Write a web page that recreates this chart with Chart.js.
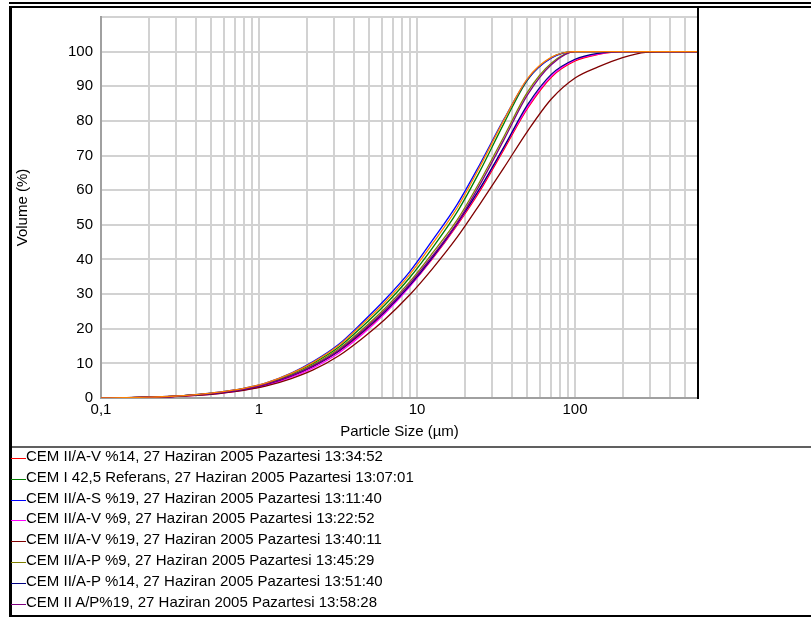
<!DOCTYPE html>
<html>
<head>
<meta charset="utf-8">
<script src="https://cdn.jsdelivr.net/npm/chart.js@4"></script>
<style>
    body { margin: 0; background: #fff; font-family: "Liberation Sans", Arial, sans-serif; }
    #wrap { position: absolute; left: 0; top: 0; width: 811px; height: 447px; }
    .bar { position: absolute; background: #000; }
    #legend { position: absolute; left: 11px; top: 446px; font-size: 15px; line-height: 20.8px; color: #000; white-space: nowrap; }
    #legend .item { position: relative; padding-left: 15px; }
    #legend .mark { position: absolute; left: 0; top: 12px; width: 15px; height: 1px; }
</style>
</head>
<body>
<div id="wrap"><canvas id="psdChart"></canvas></div>

<!-- marco -->
<div class="bar" style="left:9px; top:2px; width:802px; height:2px;"></div>
<div class="bar" style="left:9px; top:6px; width:802px; height:2px;"></div>
<div class="bar" style="left:9px; top:6px; width:3px; height:611px;"></div>
<div class="bar" style="left:9px; top:615px; width:802px; height:2px;"></div>
<div class="bar" style="left:697px; top:8px; width:2px; height:391px;"></div>
<div class="bar" style="left:12px; top:446px; width:799px; height:2px; background:#606060;"></div>

<div id="legend"></div>

<script>
// tamaños de partícula (µm)
const sizes = [0.1, 0.14, 0.2, 0.28, 0.4, 0.56, 0.8, 1.1, 1.6, 2.2, 3.2, 4.5, 6.3, 9, 12.5, 18, 25, 35.5, 50, 71, 100, 140, 200, 280, 400, 600];

// volumen acumulado (%)
const cem2AV14 = [0, 0.1, 0.21, 0.42, 0.85, 1.45, 2.45, 3.8, 6.3, 9.1, 13.5, 18.8, 24.8, 32.3, 40.2, 50, 59.8, 71.8, 83.6, 92.7, 97.3, 99.2, 100, 100, 100, 100];
const cem1Ref = [0, 0.1, 0.24, 0.48, 0.95, 1.6, 2.7, 4.1, 6.9, 10, 14.7, 20.6, 27, 34.8, 43.3, 53.8, 65.5, 79.3, 91.8, 98.3, 100, 100, 100, 100, 100, 100];
const cem2AS19 = [0, 0.1, 0.25, 0.5, 1.0, 1.7, 2.8, 4.3, 7.2, 10.5, 15.5, 21.8, 28.5, 36.5, 45.5, 56, 67.5, 80.5, 92, 98.2, 100, 100, 100, 100, 100, 100];
const cem2AV9 = [0, 0.1, 0.2, 0.4, 0.8, 1.35, 2.3, 3.6, 6.0, 8.7, 13, 18.3, 24.5, 32.2, 40.3, 50.3, 60.3, 72.3, 84, 93, 97.6, 99.3, 100, 100, 100, 100];
const cem2AV19 = [0, 0.08, 0.2, 0.38, 0.75, 1.3, 2.2, 3.4, 5.6, 8.1, 12.2, 17.2, 22.8, 29.8, 37.3, 46.5, 56, 66.5, 77, 86.4, 92.4, 95.6, 98.3, 99.8, 100, 100];
const cem2AP9 = [0, 0.1, 0.22, 0.45, 0.9, 1.55, 2.6, 4.0, 6.6, 9.6, 14.2, 19.8, 26, 33.6, 41.8, 51.5, 62.5, 75.5, 88.3, 96.7, 100, 100, 100, 100, 100, 100];
const cem2AP14 = [0, 0.1, 0.22, 0.44, 0.88, 1.5, 2.5, 3.9, 6.4, 9.2, 13.6, 19, 25, 32.5, 40.5, 50.5, 60.5, 72.5, 84.6, 93.5, 97.8, 99.5, 100, 100, 100, 100];
const cem2AP19 = [0, 0.1, 0.22, 0.44, 0.88, 1.5, 2.5, 3.9, 6.4, 9.3, 13.8, 19.3, 25.4, 33, 41, 50.7, 61.6, 74.6, 87.5, 96.3, 100, 100, 100, 100, 100, 100];
// curva naranja sin leyenda visible
const extraCurve = [0, 0.1, 0.25, 0.5, 1.0, 1.7, 2.8, 4.3, 7.1, 10.3, 15.2, 21.3, 27.8, 35.7, 44.5, 55, 66.8, 80.3, 92.2, 98.4, 100, 100, 100, 100, 100, 100];

const seriesNames = [
    'CEM II/A-V %14, 27 Haziran 2005 Pazartesi 13:34:52',
    'CEM I 42,5 Referans, 27 Haziran 2005 Pazartesi 13:07:01',
    'CEM II/A-S %19, 27 Haziran 2005 Pazartesi 13:11:40',
    'CEM II/A-V %9, 27 Haziran 2005 Pazartesi 13:22:52',
    'CEM II/A-V %19, 27 Haziran 2005 Pazartesi 13:40:11',
    'CEM II/A-P %9, 27 Haziran 2005 Pazartesi 13:45:29',
    'CEM II/A-P %14, 27 Haziran 2005 Pazartesi 13:51:40',
    'CEM II A/P%19, 27 Haziran 2005 Pazartesi 13:58:28'
];
const seriesValues = [cem2AV14, cem1Ref, cem2AS19, cem2AV9, cem2AV19, cem2AP9, cem2AP14, cem2AP19];
const seriesColors = ['#ff0000', '#008000', '#0000ff', '#ff00ff', '#800000', '#808000', '#000080', '#800080'];

const xLabelTicks = [0.1, 1, 10, 100];
const yTicks = [0, 10, 20, 30, 40, 50, 60, 70, 80, 90, 100];

// líneas de rejilla logarítmicas 0.1 ... 600
const xGrid = [];
[0.1, 1, 10, 100].forEach(d => {
    for (let k = 1; k <= 9; k++) {
        const v = +(d * k).toPrecision(3);
        if (v <= 600) xGrid.push(v);
    }
});
xGrid.push(600);

function toPoints(values) {
    return sizes.map((s, i) => ({ x: s, y: values[i] }));
}

const datasets = seriesValues.map((vals, i) => ({
    label: seriesNames[i],
    data: toPoints(vals),
    borderColor: seriesColors[i],
    borderWidth: 1.3,
    pointRadius: 0,
    fill: false,
    cubicInterpolationMode: 'monotone',
    order: 10 - i
}));
datasets.push({
    label: '',
    data: toPoints(extraCurve),
    borderColor: '#ff8000',
    borderWidth: 1.3,
    pointRadius: 0,
    fill: false,
    cubicInterpolationMode: 'monotone',
    order: 0
});

const font15 = { family: '"Liberation Sans", Arial, sans-serif', size: 15 };

new Chart(document.getElementById('psdChart').getContext('2d'), {
    type: 'line',
    data: { datasets: datasets },
    options: {
        responsive: true,
        maintainAspectRatio: false,
        animation: false,
        layout: { padding: { left: 0, right: 113, top: 8, bottom: 0 } },
        plugins: {
            legend: { display: false },
            tooltip: { enabled: false }
        },
        scales: {
            x: {
                type: 'logarithmic',
                min: 0.1,
                max: 600,
                border: { color: '#a0a0a0', width: 2 },
                grid: { color: '#d2d2d2', lineWidth: 2, drawTicks: false },
                afterBuildTicks: function (scale) {
                    scale.ticks = xGrid.map(v => ({ value: v }));
                },
                afterFit: function (scale) { scale.height = 49; },
                ticks: {
                    autoSkip: false,
                    maxRotation: 0,
                    padding: 3,
                    color: '#000',
                    font: font15,
                    callback: function (value) {
                        if (!xLabelTicks.some(t => Math.abs(t - value) < 1e-9)) return '';
                        return String(value).replace('.', ',');
                    }
                },
                title: {
                    display: true,
                    text: 'Particle Size (µm)',
                    color: '#000',
                    font: font15,
                    padding: { top: 0, bottom: 6 }
                }
            },
            y: {
                min: 0,
                max: 110,
                border: { color: '#a0a0a0', width: 2 },
                grid: { color: '#d2d2d2', lineWidth: 2, drawTicks: false },
                afterBuildTicks: function (scale) {
                    scale.ticks = yTicks.concat([110]).map(v => ({ value: v }));
                },
                afterFit: function (scale) { scale.width = 101; },
                ticks: {
                    padding: 8,
                    color: '#000',
                    font: font15,
                    callback: function (value) {
                        return yTicks.includes(value) ? String(value) : '';
                    }
                },
                title: {
                    display: true,
                    text: 'Volume (%)',
                    color: '#000',
                    font: font15,
                    padding: { top: 14, bottom: 0 }
                }
            }
        }
    }
});

// leyenda
const legendEl = document.getElementById('legend');
seriesNames.forEach((name, i) => {
    const row = document.createElement('div');
    row.className = 'item';
    row.innerHTML = '<span class="mark" style="background:' + seriesColors[i] + '"></span>' + name;
    legendEl.appendChild(row);
});
</script>
</body>
</html>
